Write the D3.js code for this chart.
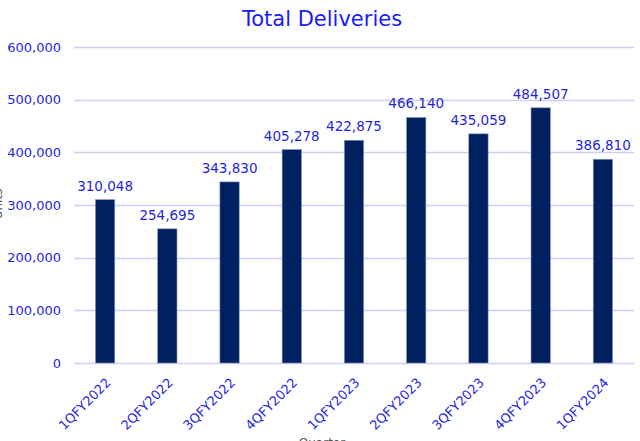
<!DOCTYPE html>
<html>
<head>
<meta charset="utf-8">
<script src="https://cdn.jsdelivr.net/npm/d3@7"></script>
<style>
  body { margin: 0; background: #fff; }
  svg { display: block; font-family: Tahoma, "DejaVu Sans", Verdana, sans-serif; }
</style>
</head>
<body>
<svg id="chart" width="640" height="441"></svg>
<script>
// data
const quarters = ["1QFY2022", "2QFY2022", "3QFY2022", "4QFY2022", "1QFY2023",
                  "2QFY2023", "3QFY2023", "4QFY2023", "1QFY2024"];
const deliveries = [310048, 254695, 343830, 405278, 422875, 466140, 435059, 484507, 386810];
const yTicks = [0, 100000, 200000, 300000, 400000, 500000, 600000];

const width = 640, height = 441;
const margin = {top: 47, right: 6, bottom: 78, left: 74};

const svg = d3.select("#chart");
const fmt = d3.format(",");

const x = d3.scaleBand()
    .domain(quarters)
    .range([margin.left, width - margin.right]);

const y = d3.scaleLinear()
    .domain([0, 600000])
    .range([height - margin.bottom, margin.top]);

const barW = x.bandwidth() * 0.31;

// gridlines
svg.append("g")
  .selectAll("line")
  .data(yTicks)
  .join("line")
    .attr("x1", margin.left)
    .attr("x2", width - margin.right)
    .attr("y1", d => Math.round(y(d)) + 0.5)
    .attr("y2", d => Math.round(y(d)) + 0.5)
    .attr("stroke", "#cfcff5")
    .attr("stroke-width", 1.5);

// y axis labels
svg.append("g")
  .selectAll("text")
  .data(yTicks)
  .join("text")
    .attr("x", 61)
    .attr("y", d => y(d))
    .attr("dy", "0.35em")
    .attr("text-anchor", "end")
    .attr("fill", "#1f1fe0")
    .attr("font-size", 13)
    .text(d => fmt(d));

// bars
svg.append("g")
  .selectAll("rect")
  .data(deliveries)
  .join("rect")
    .attr("x", (d, i) => x(quarters[i]) + (x.bandwidth() - barW) / 2)
    .attr("y", d => y(d))
    .attr("width", barW)
    .attr("height", d => y(0) - y(d))
    .attr("fill", "#00205f")
    .attr("stroke", "#8090b8")
    .attr("stroke-width", 0.6);

// value labels
svg.append("g")
  .selectAll("text")
  .data(deliveries)
  .join("text")
    .attr("x", (d, i) => x(quarters[i]) + x.bandwidth() / 2)
    .attr("y", d => y(d) - 9)
    .attr("text-anchor", "middle")
    .attr("fill", "#1f1fe0")
    .attr("font-size", 13.5)
    .text(d => fmt(d));

// x labels, rotated
svg.append("g")
  .selectAll("text")
  .data(quarters)
  .join("text")
    .attr("transform", d => "translate(" + (x(d) + x.bandwidth() / 2) + "," + (y(0) + 14) + ") rotate(-45)")
    .attr("text-anchor", "end")
    .attr("dy", "0.7em")
    .attr("fill", "#1f1fe0")
    .attr("font-size", 13)
    .text(d => d);

// title
svg.append("text")
    .attr("x", 322)
    .attr("y", 26)
    .attr("text-anchor", "middle")
    .attr("fill", "#1a1aff")
    .attr("font-size", 21)
    .text("Total Deliveries");

// axis titles, partly beyond the frame edge as in the reference
svg.append("text")
    .attr("transform", "translate(2,204) rotate(-90)")
    .attr("text-anchor", "middle")
    .attr("fill", "#555")
    .attr("font-size", 12)
    .text("Units");

svg.append("text")
    .attr("x", 322)
    .attr("y", 447)
    .attr("text-anchor", "middle")
    .attr("fill", "#555")
    .attr("font-size", 12)
    .text("Quarter");
</script>
</body>
</html>
